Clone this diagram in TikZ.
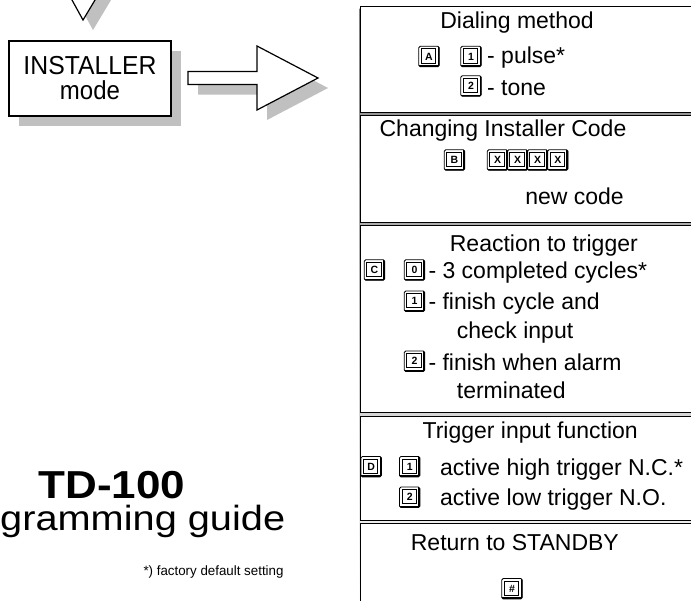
\documentclass[tikz,border=0pt]{standalone}
\usepackage{fontspec}
\setmainfont{Liberation Sans}
\usetikzlibrary{shadows}
\definecolor{shade}{RGB}{192,192,192}
\newsavebox\fitbox
\newdimen\fitdim
\newcommand\fitw[2]{\sbox\fitbox{#2}\fitdim=\wd\fitbox\pgfmathsetmacro\fitr{#1/\fitdim}\scalebox{\fitr}[1]{\usebox\fitbox}}
\newcommand\fsz[1]{\fontsize{#1}{#1}\selectfont}
\tikzset{
  txt/.style={inner sep=0pt, anchor=base west, font=\fsz{23}},
  ttl/.style={inner sep=0pt, anchor=base east, font=\fsz{23}},
  panel/.style={draw, line width=1.2pt, fill=white, minimum width=331, anchor=north west, inner sep=0pt},
  shadowed/.style={drop shadow={shadow xshift=10pt, shadow yshift=-10pt, fill=shade, opacity=1}},
  keycap/.style={draw, line width=0.8pt, minimum width=20.5pt, minimum height=20.5pt, inner sep=0pt,
    rounded corners=1.5pt, font=\fsz{10.5}\bfseries,
    path picture={
      \draw[line width=0.6pt, sharp corners] ([shift={(2.5pt,-2.5pt)}]path picture bounding box.north west)
        rectangle ([shift={(-3.8pt,3.8pt)}]path picture bounding box.south east);
      \draw[line width=3.2pt, sharp corners] (path picture bounding box.south west) -- (path picture bounding box.south east)
        -- (path picture bounding box.north east);
    }},
}
\begin{document}
\begin{tikzpicture}[x=1pt, y=-1pt]
\useasboundingbox (0,0) rectangle (691,600);

% down arrow head at top
\draw[line width=1.2pt, fill=white, shadowed] (61,-20) -- (83,20) -- (107,-20) -- cycle;

% installer box
\node[draw, line width=1.2pt, fill=white, minimum width=162, minimum height=75, shadowed,
      align=center, font=\fontsize{26}{25}\selectfont] (inst) at (90,78.5)
      {\fitw{133}{INSTALLER}\\\fitw{60}{mode}};

% block arrow
\draw[line width=1.2pt, fill=white, shadowed] (188,71.5) -- (257,71.5) -- (257,46) -- (318,78)
   -- (257,110) -- (257,84.5) -- (188,84.5) -- cycle;

% column of panels
\fill[shade] (359.5,8) rectangle (692,610);
\node[panel, minimum height=106] (p1) at (359.5,5.5) {};
\node[panel, minimum height=106.5] (p2) at (359.5,115) {};
\node[panel, minimum height=187] (p3) at (359.5,225) {};
\node[panel, minimum height=104] (p4) at (359.5,415.5) {};
\node[panel, minimum height=90] (p5) at (359.5,523) {};

% panel 1
\node[ttl] (t1) at (594,28.3) {Dialing method};
\node[keycap] (kA) at (429,56.5) {A};
\node[keycap] (kA1) at (471,56.5) {1};
\node[txt] (tA1) at (487,63) {- pulse*};
\node[keycap] (kA2) at (471,86) {2};
\node[txt] (tA2) at (487,95) {- tone};

% panel 2
\node[txt, anchor=base] (t2) at (503,136.7) {Changing Installer Code};
\node[keycap] (kB) at (454.5,160) {B};
\node[keycap] (kX1) at (497.5,160) {X};
\node[keycap] (kX2) at (517.5,160) {X};
\node[keycap] (kX3) at (537.5,160) {X};
\node[keycap] (kX4) at (557.8,160) {X};
\node[ttl] (tB) at (624,204) {new code};

% panel 3
\node[ttl] (t3) at (638,251.7) {Reaction to trigger};
\node[keycap] (kC) at (374.5,270) {C};
\node[keycap] (kC0) at (414.5,270) {0};
\node[txt] (tC0) at (428.3,278.3) {- 3 completed cycles*};
\node[keycap] (kC1) at (414.5,301.2) {1};
\node[txt] (tC1) at (428.3,309.3) {- finish cycle and};
\node[txt] (tC1b) at (456.7,338.3) {check input};
\node[keycap] (kC2) at (414.5,361.2) {2};
\node[txt] (tC2) at (428.3,370) {- finish when alarm};
\node[txt] (tC2b) at (456.7,398.3) {terminated};

% panel 4
\node[ttl] (t4) at (638,438.3) {Trigger input function};
\node[keycap] (kD) at (371.2,466.7) {D};
\node[keycap] (kD1) at (409.7,466.7) {1};
\node[txt] (tD1) at (440,475) {active high trigger N.C.*};
\node[keycap] (kD2) at (409.7,497.3) {2};
\node[txt] (tD2) at (440,505) {active low trigger N.O.};

% panel 5
\node[ttl] (t5) at (619,550) {Return to STANDBY};
\node[keycap] (kH) at (512,588.7) {\#};

% title
\node[txt, font=\fsz{39}\bfseries, text depth=0pt] (td) at (38.3,498.3) {\fitw{146.7}{TD-100}};
\node[txt, font=\fsz{35}, text height=25pt] (guide) at (0,530) {\fitw{285}{gramming guide}};
\node[txt, font=\fsz{13.5}] (foot) at (143.3,575) {\fitw{140}{*) factory default setting}};
\end{tikzpicture}
\end{document}
